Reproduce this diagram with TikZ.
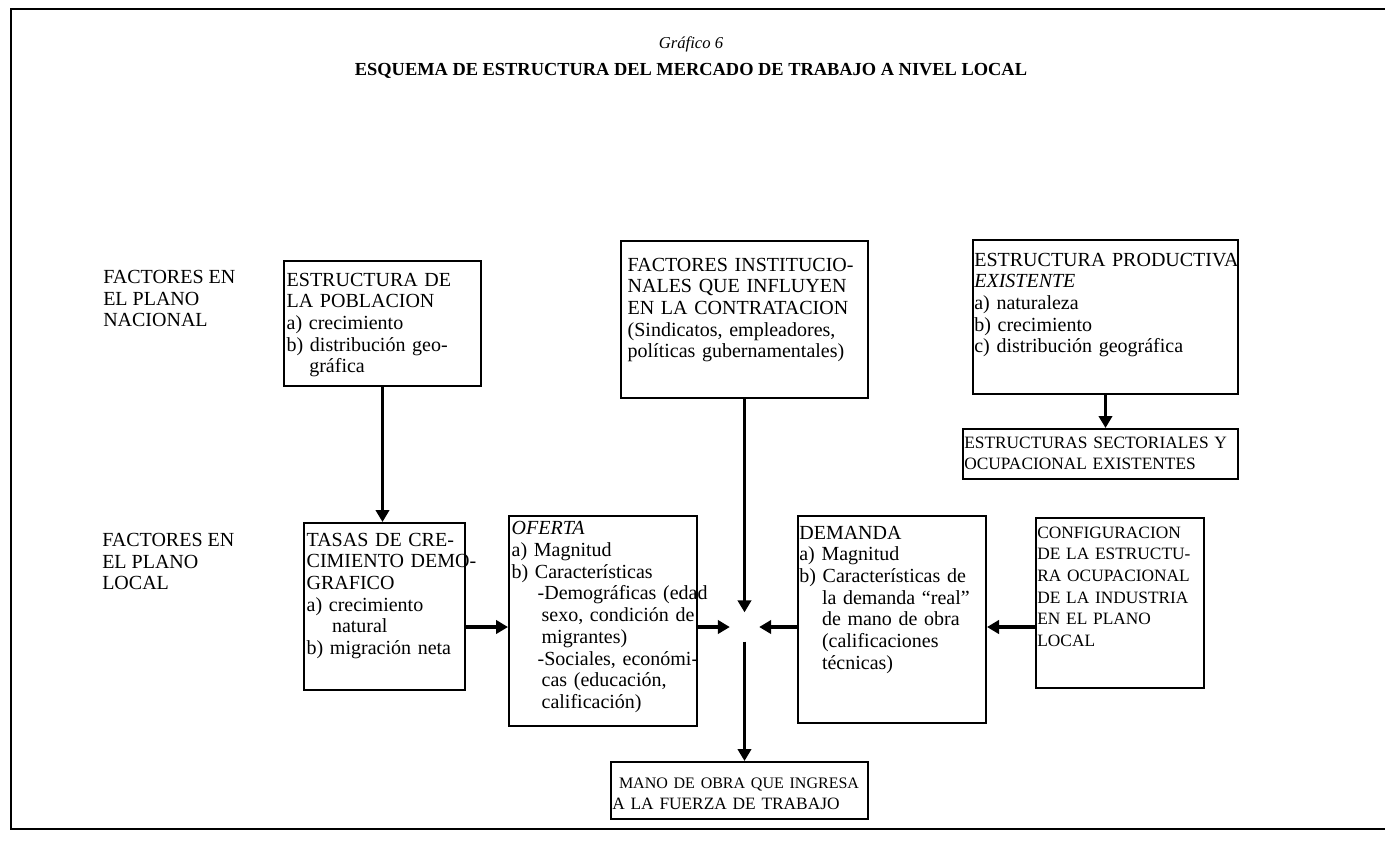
\documentclass[tikz,border=0pt]{standalone}
\usepackage{fontspec}
\setmainfont{Liberation Serif}
\usepackage{tikz}
\usetikzlibrary{arrows.meta}

\begin{document}
\begin{tikzpicture}[x=0.75pt,y=-0.75pt]
  \tikzstyle{caja}=[draw,line width=1.5pt,anchor=north west,align=left,inner xsep=2pt,inner ysep=0pt,font=\fontsize{15}{16.3}\selectfont]
  \tikzstyle{cajachica}=[caja,inner xsep=1pt,font=\fontsize{13}{16.3}\selectfont]
  \tikzstyle{rotulo}=[anchor=north west,align=left,inner sep=0pt,font=\fontsize{15}{16.3}\selectfont]
  \tikzstyle{flecha}=[line width=2.6pt,-{Triangle[length=9pt,width=10pt]}]
  \useasboundingbox (0,0) rectangle (1385,844);
  \draw[line width=1.5pt] (1385,9) -- (11,9) -- (11,829) -- (1385,829);

  \node[font=\fontsize{12.5}{14}\selectfont\itshape] (graf) at (691,44) {Gráfico 6};
  \node[font=\fontsize{13.8}{15}\selectfont\bfseries] (titulo) at (691,71) {ESQUEMA DE ESTRUCTURA DEL MERCADO DE TRABAJO A NIVEL LOCAL};

  \node[rotulo] (nacional) at (103,270) {FACTORES EN\\EL PLANO\\NACIONAL};
  \node[rotulo] (local) at (102,533) {FACTORES EN\\EL PLANO\\LOCAL};

  \node[caja,text width=143.75pt,text height=18.75pt,text depth=75pt] (pob) at (283,260)
    {ESTRUCTURA DE\\LA POBLACION\\a) crecimiento\\b) distribución geo-\\\hspace*{17pt}gráfica};

  \node[caja,inner xsep=5pt,text width=175.25pt,text height=22.5pt,text depth=95.25pt] (inst) at (620,240)
    {FACTORES INSTITUCIO-\\NALES QUE INFLUYEN\\EN LA CONTRATACION\\(Sindicatos, empleadores,\\políticas gubernamentales)};

  \node[caja,inner xsep=1pt,text width=196.75pt,text height=19.5pt,text depth=96pt] (prod) at (972,239)
    {\mbox{ESTRUCTURA PRODUCTIVA}\\\textit{EXISTENTE}\\a) naturaleza\\b) crecimiento\\c) distribución geográfica};

  \node[cajachica,text width=204.25pt,text height=14.25pt,text depth=23.25pt] (sect) at (962,428)
    {ESTRUCTURAS SECTORIALES Y\\OCUPACIONAL EXISTENTES};
  \draw[flecha] (prod.south) -- (prod.south |- sect.north);

  \node[caja,text width=116.75pt,text height=17.25pt,text depth=108pt] (tasas) at (303,522)
    {TASAS DE CRE-\\\mbox{CIMIENTO DEMO-}\\GRAFICO\\a) crecimiento\\\hspace*{19pt}natural\\b) migración neta};
  \draw[flecha] (pob.south) -- (pob.south |- tasas.north);

  \node[caja,text width=137pt,text height=14pt,text depth=143.5pt] (ofe) at (508,515)
    {\textit{OFERTA}\\a) Magnitud\\b) Características\\\mbox{\hspace*{19.5pt}-Demográficas (edad}\\\mbox{\hspace*{22.5pt}sexo, condición de}\\\hspace*{22.5pt}migrantes)\\\mbox{\hspace*{19.5pt}-Sociales, económi-}\\\hspace*{22.5pt}cas (educación,\\\hspace*{22.5pt}calificación)};

  \node[caja,inner xsep=1pt,text width=139pt,text height=17.25pt,text depth=138pt] (dem) at (797,515)
    {DEMANDA\\a) Magnitud\\b) Características de\\\hspace*{17pt}la demanda “real”\\\hspace*{17pt}de mano de obra\\\hspace*{17pt}(calificaciones\\\hspace*{17pt}técnicas)};

  \node[cajachica,text width=124pt,text height=15pt,text depth=112.5pt] (conf) at (1035,517)
    {CONFIGURACION\\\mbox{DE LA ESTRUCTU-}\\RA OCUPACIONAL\\DE LA INDUSTRIA\\EN EL PLANO\\LOCAL};

  \node[cajachica,text width=190.75pt,text height=19.5pt,text depth=23.25pt] (mano) at (610,761)
    {\mbox{\hspace*{5pt}\fontsize{12}{16.3}\selectfont MANO DE OBRA QUE INGRESA}\\A LA FUERZA DE TRABAJO};

  \coordinate (ctr) at (inst.south |- 0,627);
  \draw[flecha] (tasas.east |- ctr) -- (ofe.west |- ctr);
  \draw[flecha,shorten >=11pt] (ofe.east |- ctr) -- (ctr);
  \draw[flecha,shorten >=11pt] (dem.west |- ctr) -- (ctr);
  \draw[flecha,shorten >=11pt] (inst.south) -- (ctr);
  \draw[flecha,shorten <=11pt] (ctr) -- (ctr |- mano.north);
  \draw[flecha] (conf.west |- ctr) -- (dem.east |- ctr);
\end{tikzpicture}
\end{document}
